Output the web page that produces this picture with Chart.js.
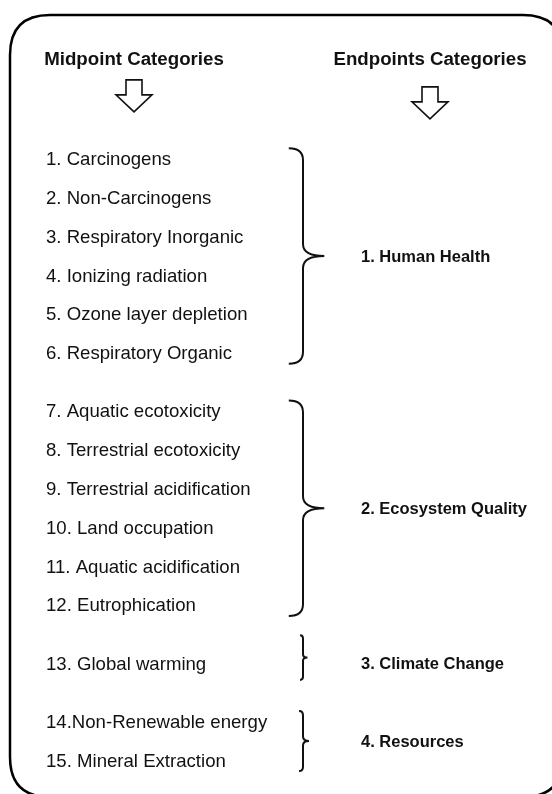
<!DOCTYPE html>
<html>
<head>
<meta charset="utf-8">
<script src="https://cdn.jsdelivr.net/npm/chart.js@4/dist/chart.umd.min.js"></script>
<style>
  html, body { margin: 0; padding: 0; background: #fff; }
  canvas { display: block; }
</style>
</head>
<body>
<canvas id="lcia-chart" width="552" height="794"></canvas>
<script>
// categorias de ponto médio e de ponto final (IMPACT 2002+)
var midpointCategories = [
    "1. Carcinogens",
    "2. Non-Carcinogens",
    "3. Respiratory Inorganic",
    "4. Ionizing radiation",
    "5. Ozone layer depletion",
    "6. Respiratory Organic",
    "7. Aquatic ecotoxicity",
    "8. Terrestrial ecotoxicity",
    "9. Terrestrial acidification",
    "10. Land occupation",
    "11. Aquatic acidification",
    "12. Eutrophication",
    "13. Global warming",
    "14.Non-Renewable energy",
    "15. Mineral Extraction"
];
var endpointCategories = ["1. Human Health", "2. Ecosystem Quality", "3. Climate Change", "4. Resources"];
// a que categoria final pertence cada categoria de ponto médio
var endpointIndex = [0, 0, 0, 0, 0, 0, 1, 1, 1, 1, 1, 1, 2, 3, 3];
var columnTitles = ["Midpoint Categories", "Endpoints Categories"];

(
    function () {
        var canvas = document.getElementById("lcia-chart");
        var W = canvas.width, H = canvas.height;

        // layout
        var ROW_TOP = 160, ROW_H = 38.8;
        var MID_X = 46, END_X = 361, BRACE_X = 303;
        var TITLE_X = [134, 430], TITLE_ROW = -2.58, ARROW_TOP = [20, 27];
        var INK = "#111";

        function rowOf(i) {
            return i + 0.5 * endpointIndex[i];
        }

        function groupRows(g) {
            var rows = [];
            endpointIndex.forEach(function (e, i) {
                if (e === g) rows.push(rowOf(i));
            });
            return rows;
        }

        var midPoints = midpointCategories.map(function (c, i) {
            return {x: MID_X, y: rowOf(i)};
        });
        var endPoints = endpointCategories.map(function (c, g) {
            var rows = groupRows(g);
            return {x: END_X, y: (rows[0] + rows[rows.length - 1]) / 2};
        });

        function roundRect(ctx, x, y, w, h, r) {
            ctx.beginPath();
            ctx.moveTo(x + r, y);
            ctx.lineTo(x + w - r, y);
            ctx.quadraticCurveTo(x + w, y, x + w, y + r);
            ctx.lineTo(x + w, y + h - r);
            ctx.quadraticCurveTo(x + w, y + h, x + w - r, y + h);
            ctx.lineTo(x + r, y + h);
            ctx.quadraticCurveTo(x, y + h, x, y + h - r);
            ctx.lineTo(x, y + r);
            ctx.quadraticCurveTo(x, y, x + r, y);
            ctx.closePath();
        }

        function downArrow(ctx, cx, top) {
            var sw = 8, hw = 18, sh = 15, hh = 17;
            ctx.beginPath();
            ctx.moveTo(cx - sw, top);
            ctx.lineTo(cx + sw, top);
            ctx.lineTo(cx + sw, top + sh);
            ctx.lineTo(cx + hw, top + sh);
            ctx.lineTo(cx, top + sh + hh);
            ctx.lineTo(cx - hw, top + sh);
            ctx.lineTo(cx - sw, top + sh);
            ctx.closePath();
            ctx.fillStyle = "#fff";
            ctx.fill();
            ctx.lineWidth = 1.6;
            ctx.strokeStyle = INK;
            ctx.stroke();
        }

        function brace(ctx, x, top, bottom) {
            var h = bottom - top, depth = 0.165 * h;
            var left = x - depth * 0.4, point = x + depth * 0.6, mid = (top + bottom) / 2;
            var r = Math.min(depth * 0.45, 12);
            ctx.beginPath();
            ctx.moveTo(left, top);
            ctx.quadraticCurveTo(x, top, x, top + r);
            ctx.lineTo(x, mid - r);
            ctx.quadraticCurveTo(x, mid, point, mid);
            ctx.quadraticCurveTo(x, mid, x, mid + r);
            ctx.lineTo(x, bottom - r);
            ctx.quadraticCurveTo(x, bottom, left, bottom);
            ctx.lineWidth = 2;
            ctx.strokeStyle = INK;
            ctx.stroke();
        }

        var diagram = {
            id: "diagram",
            beforeDraw: function (chart) {
                var ctx = chart.ctx, y = chart.scales.y;
                ctx.save();
                ctx.fillStyle = "#fff";
                ctx.fillRect(0, 0, W, H);
                roundRect(ctx, 10, 15, 553, 782, 40);
                ctx.lineWidth = 2.5;
                ctx.strokeStyle = "#000";
                ctx.stroke();

                var ty = y.getPixelForValue(TITLE_ROW);
                ctx.font = "bold 18.7px 'Liberation Sans', Arial, sans-serif";
                ctx.textAlign = "center";
                ctx.textBaseline = "middle";
                columnTitles.forEach(function (t, k) {
                    ctx.fillStyle = INK;
                    ctx.fillText(t, TITLE_X[k], ty);
                    downArrow(ctx, TITLE_X[k], ty + ARROW_TOP[k]);
                });
                ctx.restore();
            },
            afterDatasetsDraw: function (chart) {
                var ctx = chart.ctx, y = chart.scales.y;
                ctx.save();
                ctx.fillStyle = INK;
                ctx.textAlign = "left";
                ctx.textBaseline = "middle";

                ctx.font = "18.6px 'Liberation Sans', Arial, sans-serif";
                chart.getDatasetMeta(0).data.forEach(function (pt, i) {
                    ctx.fillText(midpointCategories[i], pt.x, pt.y);
                });

                endpointCategories.forEach(function (c, g) {
                    var rows = groupRows(g);
                    var single = rows.length === 1;
                    brace(ctx, BRACE_X,
                        y.getPixelForValue(rows[0] - (single ? 0.75 : 0.3)),
                        y.getPixelForValue(rows[rows.length - 1] + (single ? 0.4 : 0.25)));
                });

                ctx.font = "bold 16.5px 'Liberation Sans', Arial, sans-serif";
                chart.getDatasetMeta(1).data.forEach(function (pt, g) {
                    ctx.fillText(endpointCategories[g], pt.x, pt.y);
                });
                ctx.restore();
            }
        };

        new Chart(canvas, {
            type: "scatter",
            data: {
                datasets: [
                    {label: "Midpoint", data: midPoints, pointRadius: 0},
                    {label: "Endpoint", data: endPoints, pointRadius: 0}
                ]
            },
            options: {
                responsive: false,
                animation: false,
                layout: {padding: 0},
                plugins: {legend: {display: false}, tooltip: {enabled: false}},
                scales: {
                    x: {type: "linear", display: false, min: 0, max: W},
                    y: {type: "linear", display: false, reverse: true,
                        min: -ROW_TOP / ROW_H, max: (H - ROW_TOP) / ROW_H}
                }
            },
            plugins: [diagram]
        });
    }
)();
</script>
</body>
</html>
